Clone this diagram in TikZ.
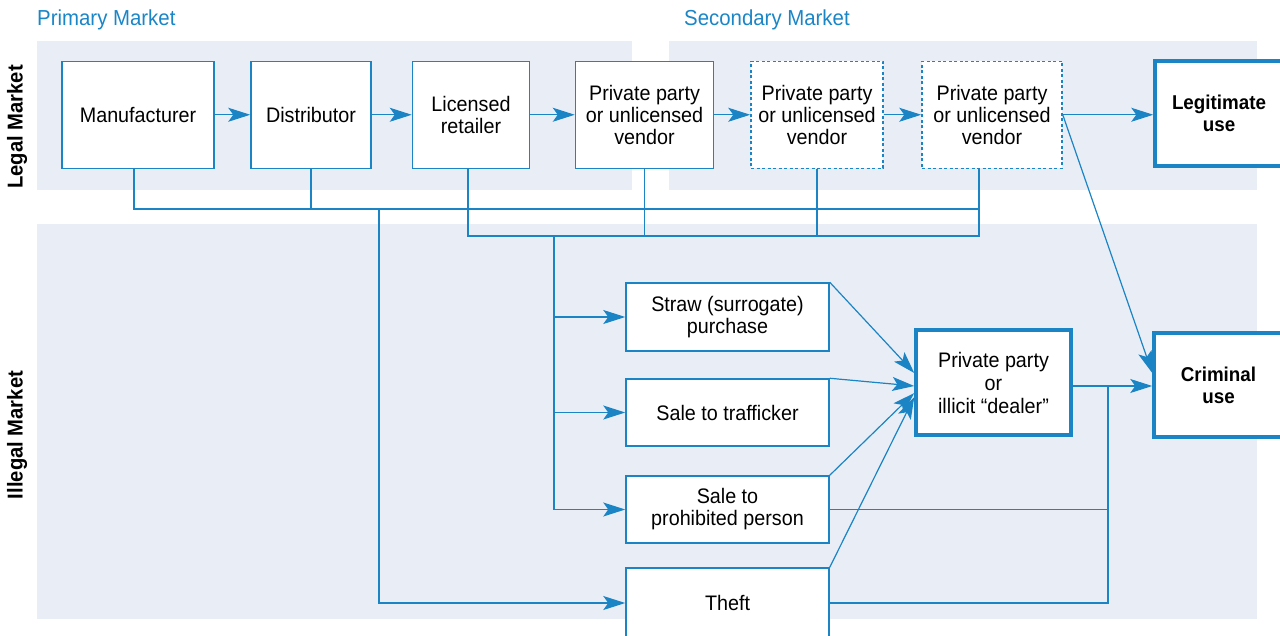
\documentclass[tikz,border=0pt]{standalone}
\usepackage{fontspec}
\setmainfont{Liberation Sans}[FakeStretch=0.94]
\usetikzlibrary{arrows.meta}
\definecolor{lb}{HTML}{1A84C4}
\definecolor{bgc}{HTML}{E9EEF6}
\definecolor{tb}{HTML}{1A85C7}
\tikzset{
 box/.style={draw=lb, line width=1.5pt, fill=white, align=center, inner sep=0pt, font=\fontsize{21}{22}\selectfont, text=black},
 dbox/.style={box, dash pattern=on 3pt off 2.5pt},
 tbox/.style={box, line width=3.5pt},
 bbox/.style={tbox, font=\fontsize{20}{22}\selectfont\bfseries},
 conn/.style={draw=lb, line width=1.2pt},
 arr/.style={conn, -{Stealth[length=22pt,width=14pt,inset=5pt]}},
 ttl/.style={text=tb, font=\fontsize{21.7}{24}\selectfont, anchor=base west, inner sep=0pt},
 side/.style={font=\fontsize{21.5}{24}\selectfont\bfseries, rotate=90, inner sep=0pt}
}
\begin{document}
\begin{tikzpicture}[x=1pt,y=-1pt]
\useasboundingbox (0,0) rectangle (1280,635);
% backgrounds
\fill[bgc] (37,41) rectangle (632,190);
\fill[bgc] (669,41) rectangle (1257,190);
\fill[bgc] (37,224) rectangle (1257,619);
% titles
\node[ttl] (tp) at (37,25) {Primary Market};
\node[ttl] (ts) at (684,25) {Secondary Market};
\node[side] (lm) at (17,127) {Legal Market};
\node[side] (im) at (17,435) {Illegal Market};
% legal row
\node[box, minimum width=152pt, minimum height=107pt] (man) at (138,114.75) {Manufacturer};
\node[box, minimum width=120pt, minimum height=107pt] (dist) at (311,114.75) {Distributor};
\node[box, minimum width=117pt, minimum height=107pt] (lic) at (471,114.75) {Licensed\\retailer};
\node[box, minimum width=138pt, minimum height=107pt] (pp1) at (644.5,114.75) {Private party\\or unlicensed\\vendor};
\node[dbox, minimum width=132pt, minimum height=107pt] (pp2) at (817,114.75) {Private party\\or unlicensed\\vendor};
\node[dbox, minimum width=140pt, minimum height=107pt] (pp3) at (992,114.75) {Private party\\or unlicensed\\vendor};
\node[bbox, minimum width=128pt, minimum height=105pt] (legit) at (1219,113.5) {Legitimate\\use};
% illegal
\node[box, minimum width=203pt, minimum height=68pt] (straw) at (727.5,317) {Straw (surrogate)\\purchase};
\node[box, minimum width=203pt, minimum height=67pt] (traf) at (727.5,412.5) {Sale to trafficker};
\node[box, minimum width=203pt, minimum height=67pt] (proh) at (727.5,509.5) {Sale to\\prohibited person};
\node[box, minimum width=203pt, minimum height=70pt] (theft) at (727.5,603) {Theft};
\node[tbox, minimum width=155pt, minimum height=105pt, font=\fontsize{21}{23}\selectfont] (deal) at (993.5,382.5) {Private party\\or\\illicit “dealer”};
\node[bbox, minimum width=129pt, minimum height=104pt] (crim) at (1218.5,385) {Criminal\\use};
% legal row arrows
\draw[arr] (man.east) -- (dist.west);
\draw[arr] (dist.east) -- (lic.west);
\draw[arr] (lic.east) -- (pp1.west);
\draw[arr] (pp1.east) -- (pp2.west);
\draw[arr] (pp2.east) -- (pp3.west);
\draw[arr] (pp3.east) -- (pp3.east -| legit.west);
% buses
\coordinate (busA) at (134,209);
\coordinate (busB) at (979,209);
\coordinate (busC) at (979,236);
\coordinate (busD) at (468,236);
\coordinate (vA) at (379,209);
\coordinate (vB) at (554,236);
\draw[conn] (man.south -| busA) -- (busA) -- (busB);
\draw[conn] (dist.south) -- (dist.south |- busA);
\draw[conn] (pp3.south -| busB) -- (busC) -- (busD) -- (lic.south -| busD);
\draw[conn] (pp1.south) -- (pp1.south |- busC);
\draw[conn] (pp2.south) -- (pp2.south |- busC);
\draw[arr] (vA) |- (theft.west);
\draw[arr] (vB) |- (straw.west);
\draw[arr] (vB) |- (traf.west);
\draw[arr] (vB) |- (proh.west);
% to dealer
\draw[arr] (straw.north east) -- ([yshift=9.5pt]deal.west);
\draw[arr] (traf.north east) -- ([yshift=-3.5pt]deal.west);
\draw[arr] (proh.north east) -- ([yshift=-10.5pt]deal.west);
\draw[arr] (theft.north east) -- ([yshift=-14.5pt]deal.west);
% to criminal
\coordinate (j) at (1108,386);
\draw[arr] (deal.east |- j) -- (crim.west |- j);
\draw[conn] (proh.east) -| (j);
\draw[conn] (theft.east) -| (j);
\draw[arr] (pp3.east) -- ([yshift=12pt]crim.west);
\end{tikzpicture}
\end{document}
